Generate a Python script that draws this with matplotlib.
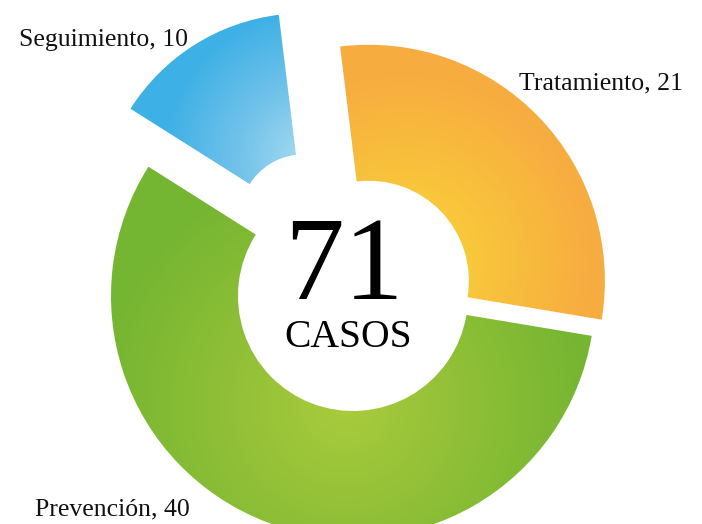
import numpy as np
import matplotlib
matplotlib.use("Agg")
import matplotlib.pyplot as plt
from matplotlib.colors import LinearSegmentedColormap

# ---- data ----
categories = ["Tratamiento", "Prevención", "Seguimiento"]
values = [21, 40, 10]
center_word = "CASOS"

# ---- style ----
W, H = 702, 524
CX, CY = 353, 228          # donut centre (pixel space, y up)
R = 242                     # outer radius of the main ring
RING = 127                  # ring width
START = 97
explode = [22, 0, 92]       # pixel offsets along slice mid-angle
radii = [236, 242, 205]
widths = [136, 127, 141]
grad_offsets = [(36, 19), (-8, -109), (8, 60)]   # gradient focus relative to wedge centre
grad_radius = [190, 250, 150]
grad_colors = [
    ["#F9D63A", "#F8C13C", "#F7AC40"],
    ["#AACB3D", "#8FBF37", "#74B532"],
    ["#A9DCF1", "#70C2EA", "#3DB0E5"],
]

fig = plt.figure(figsize=(W / 100, H / 100), dpi=100)
ax = fig.add_axes([0, 0, 1, 1])

wedges, _ = ax.pie(values, startangle=START, counterclock=False, radius=R,
                   center=(CX, CY), explode=explode,
                   wedgeprops=dict(width=RING, linewidth=0))

yy, xx = np.mgrid[0:H, 0:W] + 0.5
for i, w in enumerate(wedges):
    w.set_radius(radii[i])
    w.set_width(widths[i])
    w.set_facecolor("none")
    w.set_edgecolor("none")
    cx, cy = w.center
    gx, gy = cx + grad_offsets[i][0], cy + grad_offsets[i][1]
    d = np.clip(np.hypot(xx - gx, yy - gy) / grad_radius[i], 0, 1)
    cmap = LinearSegmentedColormap.from_list(f"g{i}", grad_colors[i])
    im = ax.imshow(d, cmap=cmap, vmin=0, vmax=1, extent=(0, W, 0, H),
                   origin="lower", interpolation="bilinear", zorder=1)
    im.set_clip_path(w)

serif = ["Liberation Serif", "DejaVu Serif"]
total = sum(values)
ax.text(344, 225, str(total), ha="center", va="baseline", fontsize=86,
        family=serif, color="black", zorder=5)
ax.text(348, 177, center_word, ha="center", va="baseline", fontsize=28.5,
        family=serif, color="black", zorder=5)

label_pos = [(519, 435, "left"), (35, 9, "left"), (19, 478, "left")]
for (x, y, ha), cat, v in zip(label_pos, categories, values):
    ax.text(x, y, f"{cat}, {v}", ha=ha, va="baseline", fontsize=18.5,
            family=serif, color="#111111", zorder=5)

ax.set_xlim(0, W)
ax.set_ylim(0, H)
ax.set_aspect("equal")
ax.axis("off")
fig.savefig("out.png", dpi=100, facecolor="white")
